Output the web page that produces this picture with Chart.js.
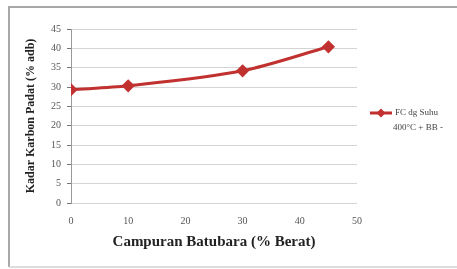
<!DOCTYPE html>
<html>
<head>
<meta charset="utf-8">
<script src="https://cdn.jsdelivr.net/npm/chart.js@4/dist/chart.umd.min.js"></script>
<style>
  body { margin: 0; background: #fff; }
  #wrap { position: relative; width: 457px; height: 269px; }
</style>
</head>
<body>
<div id="wrap"><canvas id="chart" width="457" height="269"></canvas></div>
<script>
// data
const campuran = [0, 10, 30, 45];
const kadarKarbon = [29.3, 30.3, 34.2, 40.4];
const seriesName = ['FC dg Suhu', '400°C + BB -'];
const xTitle = 'Campuran Batubara (% Berat)';
const yTitle = 'Kadar Karbon Padat (% adb)';

const red = '#c0312f';
const serif = '"Liberation Serif", "Times New Roman", serif';

// frame round the whole chart + legend on the right
const framePlugin = {
  id: 'frame',
  afterDraw(chart) {
    const c = chart.ctx;
    c.save();
    c.strokeStyle = '#a8a8a8';
    c.lineWidth = 2;
    c.beginPath();
    c.moveTo(457, 7); c.lineTo(9, 7); c.lineTo(9, 267);
    c.stroke();
    c.strokeStyle = '#dcdcdc';
    c.beginPath();
    c.moveTo(9, 267); c.lineTo(457, 267);
    c.stroke();

    // legend
    const lx = 370, ly = 113;
    c.strokeStyle = red;
    c.lineWidth = 3;
    c.beginPath();
    c.moveTo(lx, ly); c.lineTo(lx + 22, ly);
    c.stroke();
    c.fillStyle = red;
    c.beginPath();
    c.moveTo(lx + 11, ly - 4.5); c.lineTo(lx + 15.5, ly);
    c.lineTo(lx + 11, ly + 4.5); c.lineTo(lx + 6.5, ly);
    c.closePath();
    c.fill();
    c.fillStyle = '#444';
    c.font = '9px ' + serif;
    c.textBaseline = 'middle';
    c.fillText(seriesName[0], lx + 25, ly);
    c.fillText(seriesName[1], lx + 23, ly + 15);
    c.restore();
  }
};

new Chart(document.getElementById('chart'), {
  type: 'line',
  data: {
    datasets: [{
      label: seriesName.join(' '),
      data: campuran.map((x, i) => ({ x: x, y: kadarKarbon[i] })),
      borderColor: red,
      backgroundColor: red,
      borderWidth: 3,
      tension: 0.3,
      pointStyle: 'rectRot',
      pointRadius: 4.5,
      pointHoverRadius: 4.5
    }]
  },
  options: {
    responsive: false,
    animation: false,
    layout: { padding: { left: 20, top: 29, right: 100, bottom: 14 } },
    plugins: { legend: { display: false }, tooltip: { enabled: false } },
    scales: {
      x: {
        type: 'linear',
        min: 0,
        max: 50,
        ticks: { stepSize: 10, color: '#555', font: { family: serif, size: 10 }, padding: 4 },
        grid: { display: false },
        border: { display: false },
        title: { display: true, text: xTitle, color: '#222', font: { family: serif, size: 15, weight: 'bold' }, padding: { top: 10 } },
        afterFit(s) { s.height = 269 - 14 - 203; }
      },
      y: {
        min: 0,
        max: 45,
        ticks: { stepSize: 5, color: '#555', font: { family: serif, size: 10 }, padding: 6 },
        grid: { color: '#d4d4d4', lineWidth: 1, tickLength: 4, tickColor: '#777' },
        border: { display: true, color: '#999' },
        title: { display: true, text: yTitle, color: '#222', font: { family: serif, size: 12, weight: 'bold' }, padding: { bottom: 2 } },
        afterFit(s) { s.width = 71 - 20; }
      }
    }
  },
  plugins: [framePlugin]
});
</script>
</body>
</html>
